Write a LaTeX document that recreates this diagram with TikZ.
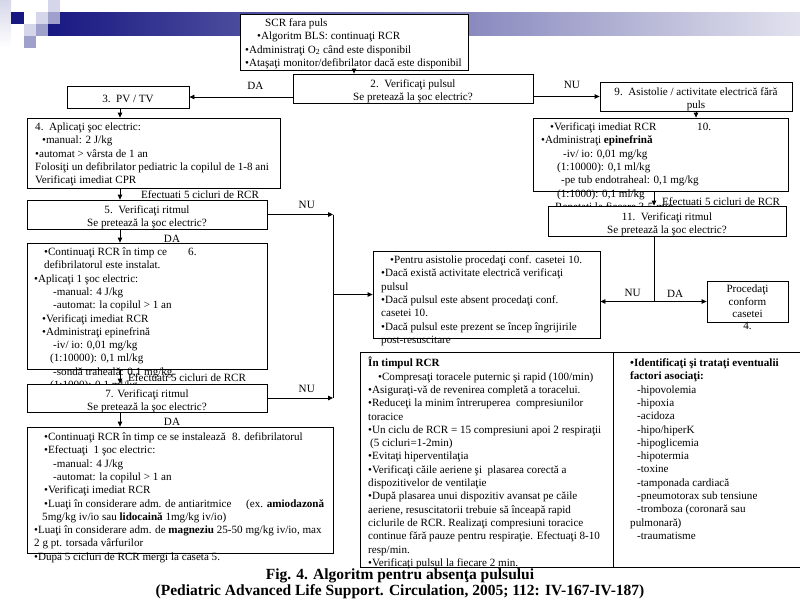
\documentclass[tikz,border=0pt]{standalone}
\usepackage{fontspec}
\setmainfont{Liberation Serif}
\usetikzlibrary{arrows.meta}
\definecolor{navy}{RGB}{24,24,130}
\definecolor{barend}{RGB}{226,226,238}
\definecolor{sqlight}{RGB}{214,214,234}
\definecolor{sqmid}{RGB}{160,160,204}
\newcommand\fs{\fontsize{11.1}{13.3}\selectfont}
\newcommand\capfs{\fontsize{15.5}{17}\selectfont\bfseries}
\tikzset{
  box/.style={draw, fill=white, line width=0.8pt, inner sep=0pt},
  txt/.style={inner sep=0pt, align=left, anchor=north west, font=\fs},
  mid/.style={inner sep=0pt, align=center, font=\fs},
  lbl/.style={inner sep=0pt, font=\fs},
  arr/.style={-{Triangle[length=5pt,width=4.5pt]}, line width=0.8pt},
  wire/.style={line width=0.8pt},
}
% box from its corners: name, x1, y1, x2, y2
\newcommand\boxat[5]{\node[box, minimum width={#4-#2}, minimum height={#5-#3}] (#1) at ({(#2+#4)/2},{(#3+#5)/2}) {};}
\begin{document}
\begin{tikzpicture}[x=1pt,y=-1pt]
\useasboundingbox (0,0) rectangle (800,600);
% slide decoration
\shade[left color=navy, right color=barend] (48,12) rectangle (800,35);
\fill[top color=sqlight, bottom color=white] (0,0) rectangle (11,47);
\fill[navy] (11,12) rectangle (24,24);
\fill[sqlight] (36,12) rectangle (48,24);
\fill[sqlight] (48,0) rectangle (60,12);
\fill[sqmid] (48,12) rectangle (60,24);
\fill[sqlight] (24,24) rectangle (36,36);
\fill[sqmid] (36,24) rectangle (48,36);
\fill[sqmid] (24,36) rectangle (36,48);
\coordinate (lx) at (120,0);
\coordinate (jx) at (333,0);
\coordinate (rx) at (654,0);
\coordinate (dv) at (613,0);

% top
\boxat{scr}{240}{14}{468}{70}
\node[txt] (tscr) at (245,17) {\strut\hspace*{20pt}SCR fara puls\\
  \hspace*{12pt}•Algoritm BLS: continuaţi RCR\\
  •Administraţi O\textsubscript{2} când este disponibil\\
  •Ataşaţi monitor/defibrilator dacă este disponibil};
\boxat{b2}{293}{74}{533}{103}
\node[mid] (t2) at ([yshift=-3pt]b2.center) {2.\ \ Verificaţi pulsul\\Se pretează la şoc electric?};
\boxat{b3}{67}{86}{189}{108}
\node[mid] (t3) at ([yshift=-2pt]b3.center) {3.\ \ PV / TV};
\boxat{b9}{600}{82}{792}{111}
\node[mid] (t9) at ([yshift=-3pt]b9.center) {9.\ \ Asistolie / activitate electrică fără\\puls};
\draw[arr] (scr.south) -- (scr.south |- b2.north);
\draw[arr] (b2.west |- b3.east) -- (b3.east) node[lbl, pos=0.36, above=7pt] (da1) {DA};
\draw[arr] (b2.east |- b9.west) -- (b9.west) node[lbl, pos=0.58, above=7pt] (nu1) {NU};

% left column
\boxat{b4}{27}{118}{280}{188}
\node[txt] (t4) at (35,121) {\strut 4.\ \ Aplicaţi şoc electric:\\
  \hspace*{7pt}•manual: 2 J/kg\\
  •automat > vârsta de 1 an\\
  Folosiţi un defibrilator pediatric la copilul de 1-8 ani\\
  Verificaţi imediat CPR};
\draw[arr] (lx |- b3.south) -- (lx |- b4.north);
\boxat{b5}{27}{200}{267}{229}
\node[mid] (t5) at ([yshift=-3pt]b5.center) {5.\ \ Verificaţi ritmul\\Se pretează la şoc electric?};
\draw[arr] (lx |- b4.south) -- (lx |- b5.north);
\node[lbl, anchor=west] (ef1) at (141,195) {Efectuati 5 cicluri de RCR};
\boxat{b6}{27}{243}{267}{369}
\draw[arr] (lx |- b5.south) -- (lx |- b6.north);
\node[lbl] (da2) at (172,239) {DA};
\node[txt] (t6) at (34,246) {\strut\hspace*{10pt}\makebox[144pt][l]{•Continuaţi RCR în timp ce}6.\\
  \hspace*{10pt}defibrilatorul este instalat.\\
  •Aplicaţi 1 şoc electric:\\
  \hspace*{19pt}-manual: 4 J/kg\\
  \hspace*{19pt}-automat: la copilul > 1 an\\
  \hspace*{8pt}•Verificaţi imediat RCR\\
  \hspace*{8pt}•Administraţi epinefrină\\
  \hspace*{19pt}-iv/ io: 0,01 mg/kg\\
  \hspace*{16pt}(1:10000): 0,1 ml/kg\\
  \hspace*{19pt}-sondă traheală: 0,1 mg/kg\\
  \hspace*{16pt}(1:1000): 0,1 ml/kg};
\node[lbl, anchor=west] (ef2) at (128,378) {Efectuati 5 cicluri de RCR};
\boxat{b7}{27}{384}{267}{412}
\node[mid] (t7) at ([yshift=-3pt]b7.center) {7. Verificaţi ritmul\\Se pretează la şoc electric?};
\draw[arr] (lx |- b6.south) -- (lx |- b7.north);
\node[lbl] (da3) at (172,422) {DA};
\boxat{b8}{27}{427}{333}{553}
\draw[arr] (lx |- b7.south) -- (lx |- b8.north);
\node[txt] (t8) at (34,431) {\strut\hspace*{10pt}\makebox[188pt][l]{•Continuaţi RCR în timp ce se instalează}8. defibrilatorul\\
  \hspace*{10pt}•Efectuaţi\ \ 1 şoc electric:\\
  \hspace*{19pt}-manual: 4 J/kg\\
  \hspace*{19pt}-automat: la copilul > 1 an\\
  \hspace*{10pt}•Verificaţi imediat RCR\\
  \hspace*{10pt}\makebox[202pt][l]{•Luaţi în considerare adm. de antiaritmice}(ex. \textbf{amiodazonă}\\
  \hspace*{8pt}5mg/kg iv/io sau \textbf{lidocaină} 1mg/kg iv/io)\\
  •Luaţi în considerare adm. de \textbf{magneziu} 25-50 mg/kg iv/io, max\\
  2 g pt. torsada vârfurilor\\
  •După 5 cicluri de RCR mergi la caseta 5.};

% NU branches
\draw[arr] (b5.east) -- (jx |- b5.east) node[lbl, pos=0.6, above=5pt] (nu2) {NU};
\draw[arr] (b7.east) -- (jx |- b7.east) node[lbl, pos=0.6, above=5pt] (nu3) {NU};
\draw[wire] (jx |- b5.east) -- (jx |- b7.east);
\boxat{asis}{373}{251}{600}{338}
\draw[arr] (jx |- asis.west) -- (asis.west);
\node[txt] (tas) at (381,254) {\strut\hspace*{9pt}•Pentru asistolie procedaţi conf. casetei 10.\\
  •Dacă există activitate electrică verificaţi\\
  pulsul\\
  •Dacă pulsul este absent procedaţi conf.\\
  casetei 10.\\
  •Dacă pulsul este prezent se încep îngrijirile\\
  post-resuscitare};

% right column
\boxat{b10}{533}{118}{788}{191}
\draw[arr] (b9.south) -- (b9.south |- b10.north);
\node[txt] (t10) at (541,121) {\strut\hspace*{9pt}\makebox[147pt][l]{•Verificaţi imediat RCR}10.\\
  •Administraţi \textbf{epinefrină}\\
  \hspace*{22pt}-iv/ io: 0,01 mg/kg\\
  \hspace*{16pt}(1:10000): 0,1 ml/kg\\
  \hspace*{20pt}-pe tub endotraheal: 0,1 mg/kg\\
  \hspace*{16pt}(1:1000): 0,1 ml/kg\\
  \hspace*{14pt}Repetaţi la fiecare 3-5 min};
\node[lbl, anchor=west] (ef3) at (662,202) {Efectuati 5 cicluri de RCR};
\boxat{b11}{548}{206}{786}{236}
\node[mid] (t11) at ([yshift=-3pt]b11.center) {11.\ \ Verificaţi ritmul\\Se pretează la şoc electric?};
\draw[arr] (rx |- b10.south) -- (rx |- b11.north);
\boxat{proc}{707}{281}{788}{322}
\node[txt, anchor=north, align=center, font=\fontsize{11.1}{12.3}\selectfont] (tpr) at (proc.north |- 0,284) {\strut Procedaţi\\conform\\casetei\\4.};
\draw[wire] (rx |- b11.south) -- (rx |- proc.west);
\draw[arr] (rx |- proc.west) -- (proc.west) node[lbl, pos=0.4, above=4pt] (da4) {DA};
\draw[arr] (rx |- proc.west) -- (asis.east |- proc.west) node[lbl, pos=0.4, above=4pt] (nu4) {NU};

% bottom table
\boxat{tab}{360}{352}{801}{567}
\draw[wire] (dv |- tab.north) -- (dv |- tab.south);
\node[txt] (tl) at (368,357) {\strut\textbf{În timpul RCR}\\
  \hspace*{10pt}•Compresaţi toracele puternic şi rapid (100/min)\\
  •Asiguraţi-vă de revenirea completă a toracelui.\\
  •Reduceţi la minim întreruperea\ \ compresiunilor\\
  toracice\\
  •Un ciclu de RCR = 15 compresiuni apoi 2 respiraţii\\
  \hspace*{2pt}(5 cicluri=1-2min)\\
  •Evitaţi hiperventilaţia\\
  •Verificaţi căile aeriene şi\ \ plasarea corectă a\\
  dispozitivelor de ventilaţie\\
  •După plasarea unui dispozitiv avansat pe căile\\
  aeriene, resuscitatorii trebuie să înceapă rapid\\
  ciclurile de RCR. Realizaţi compresiuni toracice\\
  continue fără pauze pentru respiraţie. Efectuaţi 8-10\\
  resp/min.\\
  •Verificaţi pulsul la fiecare 2 min.};
\node[txt] (tr) at (630,357) {\strut\textbf{•Identificaţi şi trataţi eventualii}\\
  \textbf{factori asociaţi:}\\
  \hspace*{7pt}-hipovolemia\\
  \hspace*{7pt}-hipoxia\\
  \hspace*{7pt}-acidoza\\
  \hspace*{7pt}-hipo/hiperK\\
  \hspace*{7pt}-hipoglicemia\\
  \hspace*{7pt}-hipotermia\\
  \hspace*{7pt}-toxine\\
  \hspace*{7pt}-tamponada cardiacă\\
  \hspace*{7pt}-pneumotorax sub tensiune\\
  \hspace*{7pt}-tromboza (coronară sau\\
  pulmonară)\\
  \hspace*{7pt}-traumatisme};

% caption
\node[inner sep=0pt, font=\capfs] (cap1) at (400,576) {Fig. 4. Algoritm pentru absenţa pulsului};
\node[inner sep=0pt, font=\capfs] (cap2) at (400,591.5) {(Pediatric Advanced Life Support. Circulation, 2005; 112: IV-167-IV-187)};
\end{tikzpicture}
\end{document}
